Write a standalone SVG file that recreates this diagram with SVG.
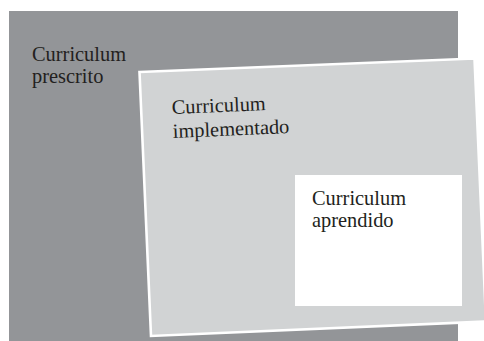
<svg xmlns="http://www.w3.org/2000/svg" width="484" height="341" viewBox="0 0 484 341">
<style>
.lbl{font-family:"Liberation Serif","Times New Roman",serif;font-size:20.4px;fill:#231f20}
</style>
<rect x="0" y="0" width="484" height="341" fill="#ffffff"/>
<g id="prescrito">
<rect x="9" y="11" width="449" height="331" fill="#939598"/>
<text class="lbl" x="32" y="61">Curriculum<tspan x="32" y="83">prescrito</tspan></text>
</g>
<g id="implementado">
<polygon points="139.5,72 474.5,58.5 486,321.5 151,336" fill="#d1d3d4" stroke="#ffffff" stroke-width="2.6" stroke-linejoin="miter"/>
<text class="lbl" x="172" y="114" transform="rotate(-2.4 172 114)">Curriculum<tspan x="172" y="138">implementado</tspan></text>
</g>
<g id="aprendido">
<rect x="295" y="175" width="167" height="131" fill="#ffffff"/>
<text class="lbl" x="312" y="205">Curriculum<tspan x="312" y="227">aprendido</tspan></text>
</g>
<g id="connectors"/>
</svg>
